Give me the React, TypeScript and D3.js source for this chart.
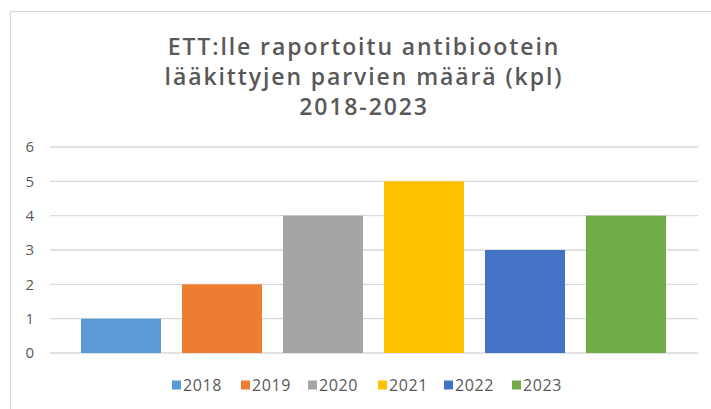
import React from "react";
import * as d3 from "d3";

const years = ["2018", "2019", "2020", "2021", "2022", "2023"];
const values = [1, 2, 4, 5, 3, 4];
const colors = ["#5B9BD5", "#ED7D31", "#A5A5A5", "#FFC000", "#4472C4", "#70AD47"];
const yTicks = [0, 1, 2, 3, 4, 5, 6];
const titleLines = [
  "ETT:lle raportoitu antibiootein",
  "lääkittyjen parvien määrä (kpl)",
  "2018-2023",
];

const W = 711;
const H = 409;
const FONT = "'Open Sans', 'DejaVu Sans', sans-serif";

export default function App() {
  const y = d3.scaleLinear().domain([0, 6]).range([353, 147]);
  const x = d3
    .scaleBand<string>()
    .domain(years)
    .range([70.5, 676.5])
    .paddingInner(0.208)
    .paddingOuter(0.104);

  const legendX = [172, 241, 308, 378, 444, 512];

  return (
    <div style={{ position: "absolute", left: 0, top: 0 }}>
      <svg width={W} height={H} style={{ display: "block", background: "#fff" }}>
        <rect x={10.5} y={11.5} width={W} height={H} fill="#fff" stroke="#d9d9d9" strokeWidth={1.2} />
        {titleLines.map((t, i) => (
          <text
            key={i}
            x={364}
            y={55 + i * 30}
            textAnchor="middle"
            fontFamily={FONT}
            fontSize={23}
            fontWeight={600}
            letterSpacing={1.9}
            fill="#595959"
          >
            {t}
          </text>
        ))}
        {yTicks.map((t) => (
          <g key={t}>
            <line x1={50} x2={698} y1={y(t)} y2={y(t)} stroke="#d9d9d9" strokeWidth={1.4} />
            <text
              x={34}
              y={y(t)}
              dy="0.35em"
              textAnchor="end"
              fontFamily={FONT}
              fontSize={15}
              fill="#595959"
            >
              {t}
            </text>
          </g>
        ))}
        {years.map((yr, i) => (
          <rect
            key={yr}
            x={x(yr)}
            y={y(values[i])}
            width={x.bandwidth()}
            height={y(0) - y(values[i])}
            fill={colors[i]}
          />
        ))}
        {years.map((yr, i) => (
          <g key={"l" + yr} transform={`translate(${legendX[i]},385)`}>
            <rect x={0} y={-4.5} width={9} height={9} fill={colors[i]} />
            <text
              x={11}
              y={0}
              dy="0.35em"
              fontFamily={FONT}
              fontSize={16}
              letterSpacing={0.6}
              fill="#595959"
            >
              {yr}
            </text>
          </g>
        ))}
      </svg>
    </div>
  );
}
